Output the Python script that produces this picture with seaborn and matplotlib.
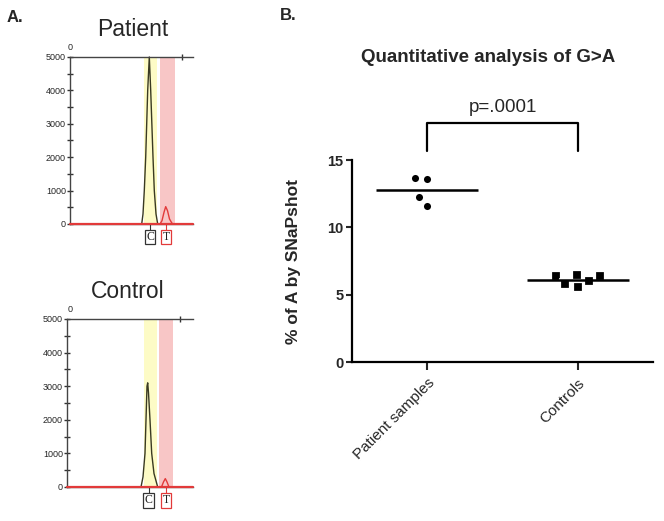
import numpy as np
import pandas as pd
import matplotlib
matplotlib.use('Agg')
import matplotlib.pyplot as plt
import matplotlib.transforms as mtransforms
from matplotlib.ticker import MultipleLocator
import seaborn as sns

sns.set_style("ticks")
plt.rcParams['font.family'] = ['Liberation Sans', 'DejaVu Sans']

# ---- panel B: % of A by SNaPshot ----
groups = ['Patient samples', 'Controls']
patient_vals = [13.69, 13.59, 12.28, 11.59]
control_vals = [6.40, 6.05, 6.47, 5.56, 5.81, 6.40]
p_label = 'p=.0001'

# ---- panel A: electropherogram peaks (x in trace units, y in RFU) ----
pat_c_x = [71.7, 73, 74.3, 75.7, 77.7, 79.3, 80.7, 83, 84.3, 86, 87.7]
pat_c_y = [0, 300, 1000, 2000, 4000, 5000, 4000, 2000, 1000, 300, 0]
pat_t_x = [90, 92, 94, 95.7, 97.5, 99.5, 102, 104]
pat_t_y = [0, 100, 350, 520, 400, 150, 20, 0]
ctl_c_x = [71, 73, 75, 76, 77, 77.7, 78.5, 80, 81.7, 84, 87.7]
ctl_c_y = [0, 300, 1000, 2000, 3000, 3100, 2800, 2000, 1000, 400, 0]
ctl_t_x = [91.5, 93.5, 95.3, 97, 99]
ctl_t_y = [0, 150, 250, 150, 0]

W, H = 664, 521
fig = plt.figure(figsize=(W / 100, H / 100), dpi=100)


def px(l, t, r, b):
    return [l / W, 1 - b / H, (r - l) / W, (b - t) / H]


yellow = '#fdfbc6'
pink = '#f8c6c6'
red = '#e23a3a'
trace_col = '#3a3a22'


def electro(ax, cx, cy, tx, ty, xmin, yband, pband, cbox, tbox, topmark):
    ax.set_xlim(xmin, 123)
    ax.set_ylim(0, 5000)
    ax.axvspan(*yband, color=yellow, lw=0, zorder=0)
    ax.axvspan(*pband, color=pink, lw=0, zorder=0)
    sns.lineplot(x=cx, y=cy, ax=ax, color=trace_col, lw=1, sort=False,
                 estimator=None, clip_on=False)
    sns.lineplot(x=tx, y=ty, ax=ax, color=red, lw=1, sort=False,
                 estimator=None)
    ax.axhline(0, color=red, lw=1.6, clip_on=False, zorder=5)
    for s in ['left', 'top', 'bottom']:
        ax.spines[s].set_color('#444444')
        ax.spines[s].set_linewidth(1)
    ax.spines['right'].set_visible(False)
    ax.yaxis.set_major_locator(MultipleLocator(1000))
    ax.yaxis.set_minor_locator(MultipleLocator(500))
    ax.tick_params(axis='y', which='both', direction='inout', length=4,
                   width=1, color='#333333', labelsize=6.5, pad=1)
    ax.xaxis.set_ticks_position('top')
    ax.set_xticks([topmark])
    ax.set_xticklabels([''])
    ax.tick_params(axis='x', direction='inout', length=4, width=1, color='#333333')
    ax.set_xlabel('')
    ax.set_ylabel('')
    tr = mtransforms.blended_transform_factory(ax.transData, ax.transAxes)
    ax.text(0, 1.055, '0', transform=tr, ha='center', va='center', fontsize=6.5)
    for xc, lab, ec in [(cbox, 'C', '#333333'), (tbox, 'T', red)]:
        ax.plot([xc, xc], [0, -0.035], transform=tr, color=ec, lw=0.8, clip_on=False)
        ax.text(xc, -0.078, lab, transform=tr, ha='center', va='center',
                fontsize=8.5, family='Liberation Serif', color='#222222',
                bbox=dict(boxstyle='square,pad=0.12', fc='white', ec=ec, lw=0.9))


axP = fig.add_axes(px(70, 57, 193, 224))
electro(axP, pat_c_x, pat_c_y, pat_t_x, pat_t_y, 0, (74, 87), (90, 105), 80, 96, 112)
axC = fig.add_axes(px(67, 319, 193, 487))
electro(axC, ctl_c_x, ctl_c_y, ctl_t_x, ctl_t_y, -3, (74, 87), (89, 103), 78.5, 96, 110)

fig.text(133 / W, 1 - 30 / H, 'Patient', ha='center', va='center', fontsize=16.5)
fig.text(128 / W, 1 - 292 / H, 'Control', ha='center', va='center', fontsize=16.5)
fig.text(7 / W, 1 - 18 / H, 'A.', ha='left', va='center', fontsize=12, fontweight='bold')
fig.text(280 / W, 1 - 15 / H, 'B.', ha='left', va='center', fontsize=12, fontweight='bold')

# ---- panel B ----
df = pd.DataFrame({
    'group': [groups[0]] * len(patient_vals) + [groups[1]] * len(control_vals),
    'value': patient_vals + control_vals,
})
axB = fig.add_axes(px(352, 160, 653, 362))
# white edge keeps the swarm spacing wider than the visible black marker
sns.swarmplot(data=df[df['group'] == groups[0]], x='group', y='value', order=groups,
              marker='o', color='black', size=6.9, edgecolor='white', linewidth=1.8, ax=axB)
sns.swarmplot(data=df[df['group'] == groups[1]], x='group', y='value', order=groups,
              marker='s', color='black', size=7.2, edgecolor='white', linewidth=1.6, ax=axB)
for i, vals in enumerate([patient_vals, control_vals]):
    axB.hlines(np.mean(vals), i - 0.34, i + 0.34, color='black', lw=1.8, zorder=3)

axB.set_xlim(-0.5, 1.5)
axB.set_ylim(0, 15)
axB.set_yticks([0, 5, 10, 15])
sns.despine(ax=axB)
for s in ['left', 'bottom']:
    axB.spines[s].set_linewidth(1.6)
    axB.spines[s].set_color('black')
axB.tick_params(axis='y', length=4, width=1.5, labelsize=10.5, pad=2)
axB.tick_params(axis='x', length=6, width=1.5, labelsize=11, pad=4)
for t in axB.get_yticklabels():
    t.set_fontweight('bold')
axB.set_xticks(range(len(groups)))
axB.set_xticklabels(groups, rotation=45, ha='right', rotation_mode='anchor')
axB.set_xlabel('')
axB.set_ylabel('% of A by SNaPshot', fontsize=12.5, fontweight='bold')
axB.yaxis.set_label_coords(-0.17, 0.5)

axB.plot([0, 0, 1, 1], [15.67, 17.75, 17.75, 15.67], color='black', lw=1.6, clip_on=False)
axB.text(0.5, 18.9, p_label, ha='center', va='center', fontsize=13.5)
fig.text(488 / W, 1 - 58 / H, 'Quantitative analysis of G>A', ha='center', va='center',
         fontsize=13.5, fontweight='bold')

fig.savefig('out.png', dpi=100)
